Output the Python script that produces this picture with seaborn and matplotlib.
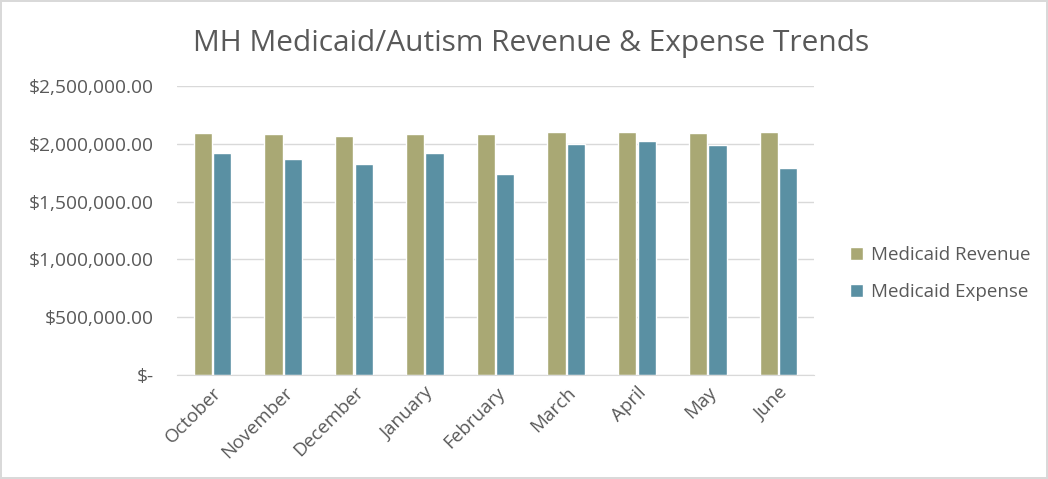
import numpy as np
import pandas as pd
import seaborn as sns
import matplotlib.pyplot as plt
from matplotlib.ticker import FuncFormatter

months = ['October', 'November', 'December', 'January', 'February',
          'March', 'April', 'May', 'June']
revenue = [2090000, 2082000, 2070000, 2082000, 2082000,
           2099000, 2099000, 2091000, 2099000]
expense = [1918000, 1866000, 1825000, 1918000, 1736000,
           1998000, 2027000, 1990000, 1788000]
series_names = ['Medicaid Revenue', 'Medicaid Expense']
series_colors = {'Medicaid Revenue': '#a9a874', 'Medicaid Expense': '#5a90a3'}

df = pd.DataFrame({
    'Month': months * 2,
    'Value': revenue + expense,
    'Series': [series_names[0]] * len(months) + [series_names[1]] * len(months),
})

sns.set_style('white')
plt.rcParams['font.family'] = ['Open Sans', 'DejaVu Sans']
text_color = '#595959'


def accounting(v, pos):
    if abs(v) < 1e-6:
        return '$-'
    return f'${v:,.2f}'


fig = plt.figure(figsize=(10.48, 4.79), dpi=100)
ax = fig.add_axes([177 / 1048, 1 - 375 / 479, (814 - 177) / 1048, (375 - 86) / 479])

sns.barplot(data=df, x='Month', y='Value', hue='Series', palette=series_colors,
            width=0.55, gap=0.06, ax=ax, saturation=1)

ax.set_ylim(0, 2500000)
ax.set_yticks(np.arange(0, 2500001, 500000))
ax.yaxis.set_major_formatter(FuncFormatter(accounting))
ax.set_xlim(-0.5, len(months) - 0.5)
ax.grid(axis='y', color='#d9d9d9', linewidth=1)
ax.set_axisbelow(True)
for s in ['top', 'right', 'left']:
    ax.spines[s].set_visible(False)
ax.spines['bottom'].set_color('#d9d9d9')
ax.tick_params(axis='y', length=0, pad=17, labelsize=13.8, labelcolor=text_color)
ax.tick_params(axis='x', length=0, pad=6, labelsize=13.5, labelcolor=text_color)
plt.setp(ax.get_xticklabels(), rotation=45, ha='right', rotation_mode='anchor')
ax.set_xlabel('')
ax.set_ylabel('')

ax.legend(loc='center left', bbox_to_anchor=(1.03, 0.35), frameon=False,
          fontsize=13.5, labelcolor=text_color, handlelength=0.7, handleheight=0.7,
          handletextpad=0.4, labelspacing=1.0)

fig.text(0.507, 0.91, 'MH Medicaid/Autism Revenue & Expense Trends',
         ha='center', va='center', fontsize=21.5, color=text_color)

fig.patch.set_edgecolor('#d9d9d9')
fig.patch.set_linewidth(1.5)

plt.savefig('out.png', dpi=100)
